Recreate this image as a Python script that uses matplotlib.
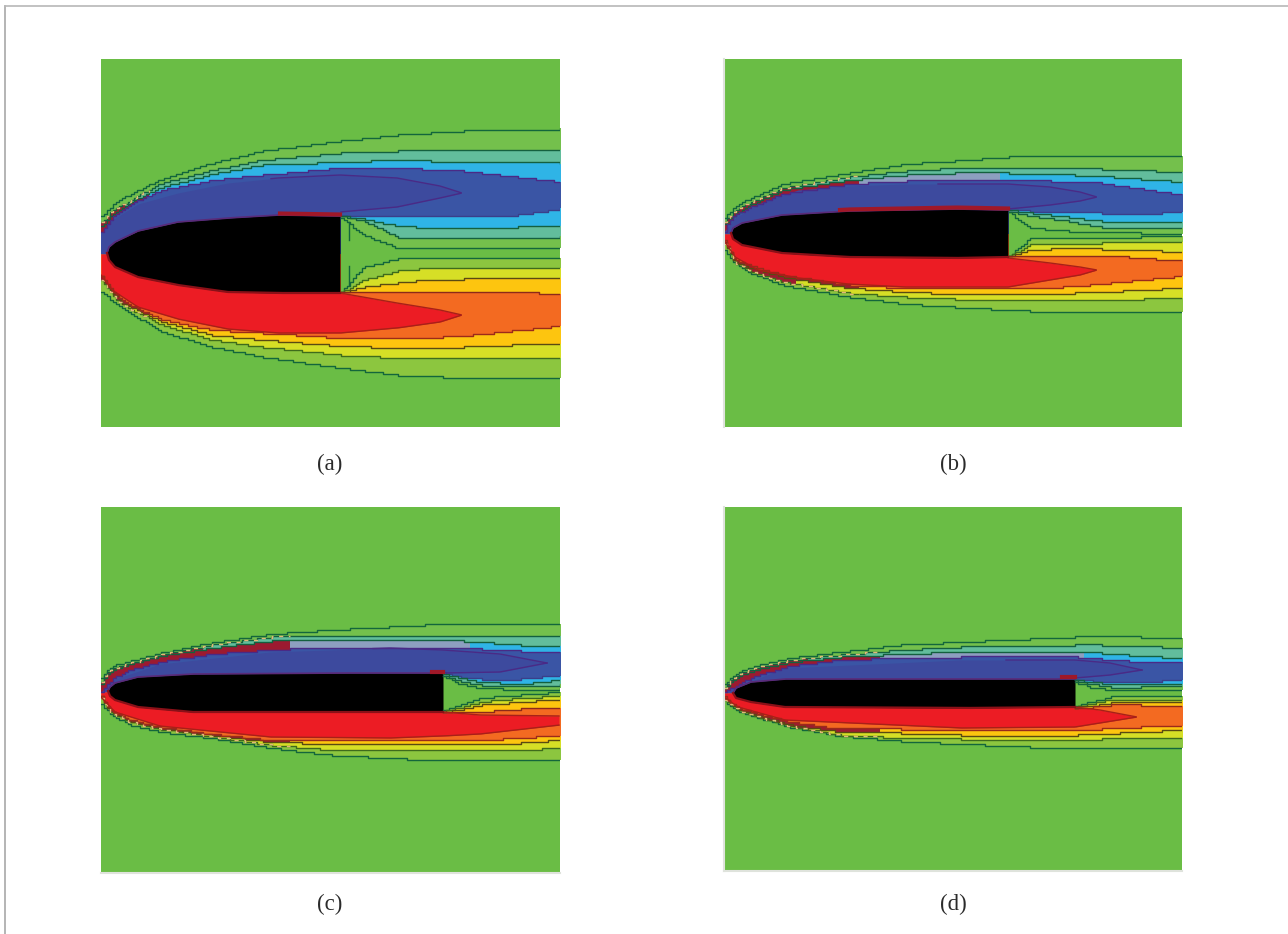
import numpy as np
import matplotlib
matplotlib.use('Agg')
import matplotlib.pyplot as plt
from matplotlib.lines import Line2D

GREEN, LIGHT, TEAL, CYAN, BLUE, DARK = '#6abd45', '#74c04c', '#62bd9c', '#2fb4e6', '#3a55a5', '#3d4a9e'
LIGHT2, YG, YELLOW, ORANGE, RED = '#8cc63f', '#d6df26', '#fdc50f', '#f36a21', '#ec1c24'
RIM = '#9c1a30'
GREY = '#8d9fc0'

# panel a
a_box = [101, 560, 59, 427]
a_mid = 254
a_s = [101, 105, 112, 122, 138, 162, 212, 262, 340, 397, 463, 560]
a_c1 = [217, 212, 205, 198, 190, 179, 163, 151, 141, 135, 131, 129]
a_c2 = [222, 218, 211, 205, 195, 183, 170, 160, 153, 151, 150, 150]
a_c3 = [226, 222, 215, 208, 198, 187, 174, 165, 162, 160, 162, 163]
a_c4 = [232, 226, 217, 210, 200, 190, 180, 175, 168, 168, 171, 182]
a_orange_low = [275, 281, 291, 300, 309, 320, 330, 333, 338, 339, 336, 326]
a_yellow_low = [277, 283, 293, 303, 311, 322, 335, 340, 346, 348, 347, 343]
a_yg_low = [280, 285, 295, 305, 313, 325, 340, 347, 355, 358, 358, 358]
a_light_low = [292, 294, 301, 309, 318, 332, 347, 357, 368, 375, 378, 378]
a_w = [340, 363, 397, 430, 463, 517, 560]
a_blue_bot = [216, 215, 216, 217, 217, 215, 209]
a_cyan_bot = [216, 219, 226, 228, 229, 227, 226]
a_teal_bot = [216, 221, 237, 238, 238, 238, 237]
a_light_bot = [217, 235, 248, 249, 249, 249, 249]
a_light_top = [293, 267, 259, 258, 258, 258, 258]
a_yg_top = [293, 280, 271, 268, 267, 267, 267]
a_yellow_top = [293, 287, 283, 279, 279, 278, 278]
a_orange_top = [293, 293, 292, 292, 292, 292, 294]
a_lobe = [101, 112, 138, 178, 228, 278, 340, 397, 440, 462]
a_dark_top = [234, 220, 204, 193, 183, 178, 175, 178, 186, 193]
a_dark_bot = [254, 254, 254, 254, 254, 254, 212, 207, 198, 193]
a_red_top = [254, 254, 254, 254, 254, 254, 293, 303, 310, 315]
a_red_bot = [275, 290, 307, 319, 329, 333, 333, 328, 322, 315]
a_bx = [107, 109, 115, 138, 178, 228, 278, 340]
a_bt = [253, 247, 242, 231, 222, 218, 215, 216]
a_bb = [253, 260, 267, 277, 285, 292, 293, 293]
a_rim_end = 150
a_grey_end = 0
a_strip = 280

# panel b
b_box = [724, 1182, 59, 427]
b_mid = 234
b_s = [724, 728, 734, 748, 782, 848, 905, 955, 1008, 1050, 1100, 1182]
b_c1 = [218, 213, 207, 199, 184, 173, 164, 161, 157, 156, 156, 157]
b_c2 = [222, 217, 211, 203, 188, 177, 171, 168, 168, 168, 169, 172]
b_c3 = [225, 220, 214, 206, 190, 180, 175, 173, 173, 174, 176, 182]
b_c4 = [232, 222, 215, 208, 194, 184, 181, 179, 180, 181, 183, 195]
b_orange_low = [241, 248, 259, 265, 275, 285, 288, 289, 289, 288, 284, 276]
b_yellow_low = [242, 249, 261, 267, 277, 288, 292, 294, 294, 294, 292, 288]
b_yg_low = [243, 250, 262, 270, 282, 293, 297, 299, 300, 301, 300, 298]
b_light_low = [250, 255, 263, 272, 285, 297, 304, 307, 310, 312, 312, 313]
b_w = [1008, 1030, 1067, 1100, 1140, 1182]
b_blue_bot = [210, 211, 212, 213, 214, 212]
b_cyan_bot = [210, 213, 217, 221, 222, 221]
b_teal_bot = [211, 216, 221, 227, 227, 227]
b_light_bot = [212, 228, 231, 232, 233, 234]
b_light_top = [257, 238, 238, 238, 237, 236]
b_yg_top = [257, 244, 243, 243, 242, 242]
b_yellow_top = [257, 250, 248, 249, 250, 252]
b_orange_top = [257, 256, 255, 255, 258, 261]
b_lobe = [724, 735, 758, 798, 848, 905, 1008, 1050, 1080, 1097]
b_dark_top = [232, 218, 204, 190, 186, 184, 184, 187, 192, 197]
b_dark_bot = [234, 234, 234, 234, 234, 234, 209, 205, 201, 197]
b_red_top = [234, 234, 234, 234, 234, 234, 258, 263, 267, 270]
b_red_bot = [240, 257, 270, 278, 284, 287, 287, 280, 275, 270]
b_bx = [731, 733, 742, 782, 848, 955, 1008]
b_bt = [233, 228, 223, 215, 211, 209, 210]
b_bb = [233, 239, 245, 253, 257, 258, 257]
b_rim_end = 860
b_grey_end = 1000
b_strip = 840

# panel c
c_box = [101, 560, 507, 873]
c_mid = 692
c_s = [101, 106, 115, 130, 160, 210, 270, 330, 443, 480, 520, 560]
c_c1 = [678, 670, 665, 661, 653, 643, 634, 630, 624, 624, 624, 624]
c_c2 = [682, 672, 668, 663, 655, 645, 637, 637, 635, 635, 635, 636]
c_c3 = [684, 675, 669, 664, 656, 648, 641, 640, 640, 642, 645, 646]
c_c4 = [692, 685, 677, 670, 662, 654, 650, 647, 648, 649, 651, 652]
c_orange_low = [695, 706, 713, 720, 727, 734, 740, 741, 741, 740, 738, 735]
c_yellow_low = [696, 707, 714, 721, 728, 735, 742, 744, 745, 744, 743, 740]
c_yg_low = [698, 708, 715, 722, 729, 736, 745, 750, 750, 750, 750, 748]
c_light_low = [705, 710, 717, 725, 732, 738, 748, 755, 761, 761, 761, 760]
c_w = [443, 460, 480, 520, 560]
c_blue_bot = [673, 677, 679, 679, 675]
c_cyan_bot = [674, 678, 682, 684, 680]
c_teal_bot = [675, 681, 685, 687, 685]
c_light_bot = [676, 684, 688, 690, 689]
c_light_top = [710, 705, 698, 695, 692]
c_yg_top = [711, 708, 702, 698, 696]
c_yellow_top = [712, 710, 705, 702, 699]
c_orange_top = [712, 712, 712, 709, 707]
c_lobe = [101, 115, 160, 270, 390, 443, 500, 547]
c_dark_top = [692, 679, 664, 652, 648, 650, 654, 663]
c_dark_bot = [692, 692, 692, 692, 692, 673, 672, 663]
c_red_lobe = [101, 115, 160, 270, 390, 443, 480, 560]
c_red_top = [692, 692, 692, 692, 692, 712, 715, 716]
c_red_bot = [697, 712, 726, 737, 738, 736, 734, 725]
c_bx = [108, 110, 115, 138, 192, 335, 443]
c_bt = [691, 687, 683, 677, 674, 673, 673]
c_bb = [691, 696, 700, 707, 712, 712, 712]
c_rim_end = 290
c_grey_end = 470
c_strip = 432

# panel d
d_box = [724, 1182, 507, 871]
d_mid = 693
d_s = [724, 730, 738, 755, 790, 840, 900, 960, 1075, 1100, 1140, 1182]
d_c1 = [685, 678, 672, 666, 658, 652, 645, 642, 637, 637, 637, 638]
d_c2 = [687, 680, 674, 668, 660, 655, 650, 647, 645, 645, 646, 648]
d_c3 = [689, 682, 676, 670, 662, 657, 654, 652, 652, 653, 656, 658]
d_c4 = [692, 689, 684, 676, 666, 660, 658, 657, 657, 659, 662, 663]
d_orange_low = [697, 703, 708, 713, 722, 729, 729, 730, 730, 729, 727, 725]
d_yellow_low = [698, 704, 709, 715, 725, 732, 733, 735, 735, 734, 732, 730]
d_yg_low = [699, 705, 710, 716, 726, 735, 738, 739, 740, 739, 738, 737]
d_light_low = [700, 706, 711, 717, 727, 736, 741, 744, 749, 749, 749, 749]
d_w = [1075, 1090, 1110, 1140, 1182]
d_blue_bot = [679, 681, 682, 682, 680]
d_cyan_bot = [680, 682, 684, 684, 683]
d_teal_bot = [681, 684, 687, 687, 686]
d_light_bot = [682, 687, 690, 690, 689]
d_light_top = [706, 702, 697, 696, 695]
d_yg_top = [707, 704, 700, 699, 699]
d_yellow_top = [707, 706, 703, 702, 702]
d_orange_top = [707, 707, 705, 705, 706]
d_lobe = [724, 738, 785, 960, 1075, 1110, 1142]
d_dark_top = [693, 686, 668, 660, 660, 663, 670]
d_dark_bot = [693, 693, 693, 693, 678, 675, 670]
d_red_lobe = [724, 738, 785, 960, 1075, 1100, 1137]
d_red_top = [693, 693, 693, 693, 707, 710, 717]
d_red_bot = [697, 707, 720, 728, 727, 723, 717]
d_bx = [733, 736, 751, 785, 963, 1075]
d_bt = [693, 688, 682, 679, 679, 679]
d_bb = [693, 698, 702, 707, 708, 707]
d_rim_end = 880
d_grey_end = 1085
d_strip = 1062

captions = ['(a)', '(b)', '(c)', '(d)']
caption_x = [330, 953, 330, 953]
caption_y = [464, 464, 904, 904]

W, H = 1288, 934


def blocky(xx, xp, yp, grid=2):
    # the source is a low-res raster, contours come out as little stairs
    return np.round(np.interp(xx, xp, yp) / grid) * grid


def band(ax, xx, top, bot, color, line=None, line2=None):
    ax.fill_between(xx, top, bot, where=top <= bot, step='post', color=color, lw=0)
    if line:
        ax.step(xx, top, where='post', color=line, lw=1.0)
    if line2:
        ax.step(xx, bot, where='post', color=line2, lw=1.0)


def panel(box, mid, s, c1, c2, c3, c4, olow, ylow, glow, llow, w,
          bluebot, cyanbot, tealbot, lightbot, lighttop, ygtop, yellowtop, orangetop,
          dark_x, dark_top, dark_bot, red_x, red_top, red_bot, bx, bt, bb,
          rim_end, grey_end, strip):
    x0, x1, y0, y1 = box
    ax = fig.add_axes([x0 / W, 1 - y1 / H, (x1 - x0) / W, (y1 - y0) / H])
    ax.set_facecolor(GREEN)
    ax.set_xticks([])
    ax.set_yticks([])
    for sp in ax.spines.values():
        sp.set_visible(False)

    # runs a bit past the right edge so no closing stair shows
    xx = np.arange(x0, x1 + 12, 3.0)
    aft = xx >= w[0]

    def wake(vals):
        return np.where(aft, blocky(xx, w, vals), mid)

    # upper side, outside in
    upper = [(c1, lightbot, LIGHT, '#13663c'), (c2, tealbot, TEAL, '#14603f'),
             (c3, cyanbot, CYAN, '#14603f'), (c4, bluebot, BLUE, '#4a2a86')]
    for top, bot, col, ln in upper:
        band(ax, xx, blocky(xx, s, top), wake(bot), col, ln, None)
    for bot, ln in [(bluebot, '#3a3f8a'), (cyanbot, '#14603f'), (tealbot, '#14603f'), (lightbot, '#13663c')]:
        ax.step(xx[aft], blocky(xx, w, bot)[aft], where='post', color=ln, lw=1.0)

    # greyed stretch of the cyan band on the slender shapes
    grey = (xx >= rim_end - 40) & (xx <= grey_end)
    if grey.any():
        ax.fill_between(xx[grey], blocky(xx, s, c3)[grey] + 1, blocky(xx, s, c4)[grey], step='post', color=GREY, lw=0)

    # lower side
    lower = [(lighttop, llow, LIGHT2, '#13663c'), (ygtop, glow, YG, '#3f6b1c'),
             (yellowtop, ylow, YELLOW, '#5a4a12'), (orangetop, olow, ORANGE, '#9c2a1a')]
    for top, bot, col, ln in lower:
        band(ax, xx, wake(top), blocky(xx, s, bot), col, None, ln)
    for top, ln in [(lighttop, '#13663c'), (ygtop, '#3f6b1c'), (yellowtop, '#5a4a12'), (orangetop, '#8c2a1a')]:
        ax.step(xx[aft], blocky(xx, w, top)[aft], where='post', color=ln, lw=1.0)

    # dark red rim hugging the nose, thinner towards its end
    fore = xx <= rim_end
    half = xx <= x0 + (rim_end - x0) * 0.55
    ax.fill_between(xx[half], blocky(xx, s, c2)[half], blocky(xx, s, c4)[half], step='post', color=RIM, lw=0)
    ax.fill_between(xx[fore], blocky(xx, s, c3)[fore], blocky(xx, s, c4)[fore], step='post', color=RIM, lw=0)
    ax.fill_between(xx[fore], blocky(xx, s, olow)[fore], blocky(xx, s, ylow)[fore], step='post', color=RIM, lw=0)
    ax.fill_between(xx[half], blocky(xx, s, olow)[half], blocky(xx, s, glow)[half], step='post', color=RIM, lw=0)
    ax.step(xx[fore], blocky(xx, s, c2)[fore], where='post', color='#e2b878', lw=1.0, ls=(0, (3, 4)))
    ax.step(xx[fore], blocky(xx, s, glow)[fore], where='post', color='#e2b878', lw=1.0, ls=(0, (3, 4)))

    # inner lobes
    xd = np.arange(dark_x[0], dark_x[-1] + 1, 2.0)
    dt, db = np.interp(xd, dark_x, dark_top), np.interp(xd, dark_x, dark_bot)
    ax.fill_between(xd, dt, db, color=DARK, lw=0)
    late = xd >= bx[-1] - 70
    ax.plot(xd[late], dt[late], color='#4a2a86', lw=1.0)
    ax.plot(xd[xd >= bx[-1]], db[xd >= bx[-1]], color='#4a2a86', lw=1.0)
    xr = np.arange(red_x[0], red_x[-1] + 1, 2.0)
    rt, rb = np.interp(xr, red_x, red_top), np.interp(xr, red_x, red_bot)
    ax.fill_between(xr, rt, rb, color=RED, lw=0)
    ax.plot(xr[xr >= bx[-1]], rt[xr >= bx[-1]], color='#a82018', lw=1.0)
    ax.plot(xr, rb, color='#a82018', lw=1.0)

    # body
    xb = np.arange(bx[0], bx[-1] + 1, 1.0)
    tb, bb2 = np.interp(xb, bx, bt), np.interp(xb, bx, bb)
    ax.plot(xb, tb, color='#5a2a78', lw=1.2)
    ax.plot(xb[xb >= strip], tb[xb >= strip] - 1.5, color='#a01828', lw=3.0)
    ax.plot(xb, bb2, color='#8a1018', lw=1.6)
    ax.fill_between(xb, tb, bb2, color='black', lw=0)
    ax.set_xlim(x0, x1)
    ax.set_ylim(y1, y0)
    return ax


fig = plt.figure(figsize=(W / 100, H / 100), dpi=100)

ax_a = panel(a_box, a_mid, a_s, a_c1, a_c2, a_c3, a_c4, a_orange_low, a_yellow_low, a_yg_low, a_light_low, a_w,
             a_blue_bot, a_cyan_bot, a_teal_bot, a_light_bot, a_light_top, a_yg_top, a_yellow_top, a_orange_top,
             a_lobe, a_dark_top, a_dark_bot, a_lobe, a_red_top, a_red_bot, a_bx, a_bt, a_bb,
             a_rim_end, a_grey_end, a_strip)
ax_b = panel(b_box, b_mid, b_s, b_c1, b_c2, b_c3, b_c4, b_orange_low, b_yellow_low, b_yg_low, b_light_low, b_w,
             b_blue_bot, b_cyan_bot, b_teal_bot, b_light_bot, b_light_top, b_yg_top, b_yellow_top, b_orange_top,
             b_lobe, b_dark_top, b_dark_bot, b_lobe, b_red_top, b_red_bot, b_bx, b_bt, b_bb,
             b_rim_end, b_grey_end, b_strip)
ax_c = panel(c_box, c_mid, c_s, c_c1, c_c2, c_c3, c_c4, c_orange_low, c_yellow_low, c_yg_low, c_light_low, c_w,
             c_blue_bot, c_cyan_bot, c_teal_bot, c_light_bot, c_light_top, c_yg_top, c_yellow_top, c_orange_top,
             c_lobe, c_dark_top, c_dark_bot, c_red_lobe, c_red_top, c_red_bot, c_bx, c_bt, c_bb,
             c_rim_end, c_grey_end, c_strip)
ax_d = panel(d_box, d_mid, d_s, d_c1, d_c2, d_c3, d_c4, d_orange_low, d_yellow_low, d_yg_low, d_light_low, d_w,
             d_blue_bot, d_cyan_bot, d_teal_bot, d_light_bot, d_light_top, d_yg_top, d_yellow_top, d_orange_top,
             d_lobe, d_dark_top, d_dark_bot, d_red_lobe, d_red_top, d_red_bot, d_bx, d_bt, d_bb,
             d_rim_end, d_grey_end, d_strip)

# the little spurs behind the base in panel a
for ys in ([222, 240], [266, 285]):
    ax_a.plot([349, 349], ys, color='#13663c', lw=1.0)

# pale scan edges on the right hand panels
for ax, sides in ((ax_b, ['left']), (ax_c, ['bottom']), (ax_d, ['left', 'bottom'])):
    for side in sides:
        ax.spines[side].set_visible(True)
        ax.spines[side].set_color('#dfe3dc')
        ax.spines[side].set_linewidth(1.5)

for t, x, y in zip(captions, caption_x, caption_y):
    fig.text(x / W, 1 - y / H, t, ha='center', va='center', fontsize=16.5,
             family='Liberation Serif', color='#2b2b2b')

# page frame, top and left only
fig.add_artist(Line2D([4.5 / W, 4.5 / W], [0, 1 - 6 / H], color='#a8a8a8', lw=1.2))
fig.add_artist(Line2D([4.5 / W, 1], [1 - 6 / H, 1 - 6 / H], color='#b8b8b8', lw=1.2))

plt.savefig('out.png', dpi=100)
plt.close()
